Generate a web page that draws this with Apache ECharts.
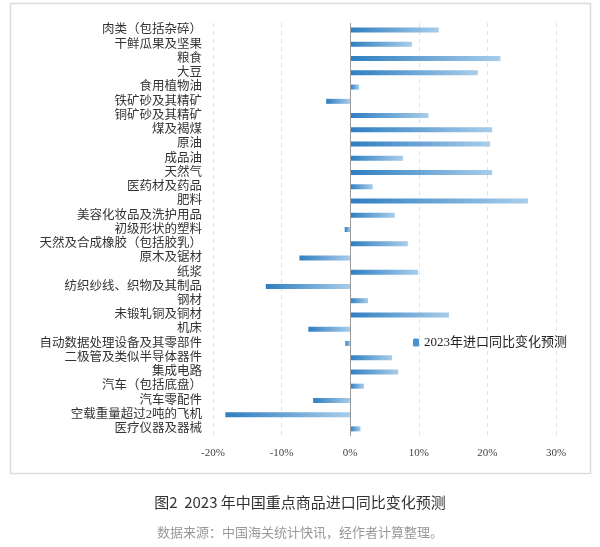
<!DOCTYPE html>
<html lang="zh">

<head>
  <meta charset="UTF-8">
  <title>2023年中国重点商品进口同比变化预测</title>
  <script src="https://cdn.jsdelivr.net/npm/echarts@6/dist/echarts.min.js"></script>
  <style>
    html, body { margin: 0; padding: 0; background: #fff; }
    #main { width: 600px; height: 547px; }
  </style>
</head>

<body>
  <div id="main"></div>
  <script>
    // 商品类别（自上而下）
    const categories = [
      '肉类（包括杂碎）', '干鲜瓜果及坚果', '粮食', '大豆', '食用植物油',
      '铁矿砂及其精矿', '铜矿砂及其精矿', '煤及褐煤', '原油', '成品油',
      '天然气', '医药材及药品', '肥料', '美容化妆品及洗护用品', '初级形状的塑料',
      '天然及合成橡胶（包括胶乳）', '原木及锯材', '纸浆', '纺织纱线、织物及其制品', '钢材',
      '未锻轧铜及铜材', '机床', '自动数据处理设备及其零部件', '二极管及类似半导体器件', '集成电路',
      '汽车（包括底盘）', '汽车零配件', '空载重量超过2吨的飞机', '医疗仪器及器械'
    ]
    // 2023年进口同比变化预测（%）
    const forecast = [
      12.9, 9.0, 21.9, 18.6, 1.3,
      -3.5, 11.4, 20.7, 20.4, 7.7,
      20.7, 3.3, 25.9, 6.5, -0.8,
      8.4, -7.4, 9.9, -12.3, 2.6,
      14.4, -6.1, -0.7, 6.1, 7.0,
      2.0, -5.4, -18.2, 1.5
    ]
    const seriesName = '2023年进口同比变化预测'
    const xMin = -20
    const xMax = 30
    const xStep = 10

    const serif = "'Liberation Serif', 'Noto Sans CJK SC', serif"

    let myChart = echarts.init(document.querySelector('#main'))

    let option = {
      animation: false,
      title: [
        {
          text: '图2  2023 年中国重点商品进口同比变化预测',
          left: 'center',
          top: 490,
          textStyle: { fontSize: 15, fontWeight: 'normal', color: '#333', fontFamily: "'Noto Sans CJK SC', sans-serif" }
        },
        {
          text: '数据来源：中国海关统计快讯，经作者计算整理。',
          left: 'center',
          top: 521,
          textStyle: { fontSize: 13, fontWeight: 'normal', color: '#999', fontFamily: "'Noto Sans CJK SC', sans-serif" }
        }
      ],
      graphic: [
        {
          type: 'rect',
          shape: { x: 10.5, y: 3.5, width: 580, height: 470 },
          style: { fill: 'none', stroke: '#dcdcdc', lineWidth: 1.5 },
          silent: true
        }
      ],
      legend: {
        data: [seriesName],
        left: 408,
        top: 331,
        itemWidth: 6,
        itemHeight: 8,
        itemGap: 4,
        textStyle: { fontSize: 13, color: '#222', fontFamily: serif },
        itemStyle: { color: '#4a92d2' }
      },
      grid: {
        left: 213,
        right: 44,
        top: 23,
        height: 413
      },
      xAxis: {
        type: 'value',
        min: xMin,
        max: xMax,
        interval: xStep,
        axisLine: { show: false },
        axisTick: { show: false },
        axisLabel: {
          formatter: '{value}%',
          margin: 12,
          fontSize: 11,
          color: '#444',
          fontFamily: serif
        },
        splitLine: {
          lineStyle: { color: '#e0e0e0', type: [4, 4], width: 1 }
        }
      },
      yAxis: {
        type: 'category',
        inverse: true,
        data: categories,
        axisLine: { show: false, onZero: false },
        axisTick: { show: false },
        axisLabel: {
          interval: 0,
          margin: 11,
          fontSize: 12.5,
          color: '#333',
          fontFamily: serif
        }
      },
      series: [
        {
          name: seriesName,
          type: 'bar',
          data: forecast,
          barWidth: 5,
          itemStyle: {
            color: new echarts.graphic.LinearGradient(0, 0, 1, 0, [
              { offset: 0, color: '#2f7ec1' },
              { offset: 1, color: '#a8cdea' }
            ])
          },
          markLine: {
            silent: true,
            symbol: 'none',
            label: { show: false },
            lineStyle: { color: '#9a9a9a', type: 'solid', width: 1 },
            data: [{ xAxis: 0 }]
          }
        }
      ]
    };

    myChart.setOption(option);
  </script>
</body>

</html>
